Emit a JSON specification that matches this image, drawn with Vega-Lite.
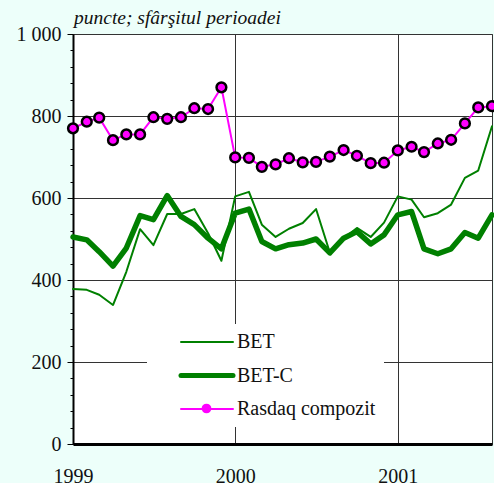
{
  "$schema": "https://vega.github.io/schema/vega-lite/v6.json",
  "width": 419,
  "height": 410,
  "autosize": {"type": "none"},
  "padding": {"left": 73, "top": 34, "right": 2, "bottom": 39},
  "background": "#EDFFFA",
  "config": {
    "view": {"fill": "white", "stroke": "#333", "strokeWidth": 1},
    "font": "Liberation Serif, Times New Roman, serif"
  },
  "title": {
    "text": "puncte; sfârşitul perioadei",
    "anchor": "start",
    "frame": "group",
    "font": "Liberation Serif, Times New Roman, serif",
    "fontSize": 19.5,
    "fontStyle": "italic",
    "fontWeight": "normal",
    "baseline": "alphabetic",
    "offset": 8,
    "dx": 1,
    "dy": 27,
    "color": "#111"
  },
  "data": {
    "values": [
      {"date": "1999-01-01", "series": "BET", "value": 378},
      {"date": "1999-02-01", "series": "BET", "value": 376},
      {"date": "1999-03-01", "series": "BET", "value": 364},
      {"date": "1999-04-01", "series": "BET", "value": 339},
      {"date": "1999-05-01", "series": "BET", "value": 420},
      {"date": "1999-06-01", "series": "BET", "value": 524},
      {"date": "1999-07-01", "series": "BET", "value": 485},
      {"date": "1999-08-01", "series": "BET", "value": 561},
      {"date": "1999-09-01", "series": "BET", "value": 561},
      {"date": "1999-10-01", "series": "BET", "value": 573},
      {"date": "1999-11-01", "series": "BET", "value": 514},
      {"date": "1999-12-01", "series": "BET", "value": 447},
      {"date": "2000-01-01", "series": "BET", "value": 604},
      {"date": "2000-02-01", "series": "BET", "value": 615},
      {"date": "2000-03-01", "series": "BET", "value": 535},
      {"date": "2000-04-01", "series": "BET", "value": 505},
      {"date": "2000-05-01", "series": "BET", "value": 525},
      {"date": "2000-06-01", "series": "BET", "value": 539},
      {"date": "2000-07-01", "series": "BET", "value": 573},
      {"date": "2000-08-01", "series": "BET", "value": 467},
      {"date": "2000-09-01", "series": "BET", "value": 502},
      {"date": "2000-10-01", "series": "BET", "value": 527},
      {"date": "2000-11-01", "series": "BET", "value": 505},
      {"date": "2000-12-01", "series": "BET", "value": 540},
      {"date": "2001-01-01", "series": "BET", "value": 604},
      {"date": "2001-02-01", "series": "BET", "value": 596},
      {"date": "2001-03-01", "series": "BET", "value": 553},
      {"date": "2001-04-01", "series": "BET", "value": 563},
      {"date": "2001-05-01", "series": "BET", "value": 584},
      {"date": "2001-06-01", "series": "BET", "value": 649},
      {"date": "2001-07-01", "series": "BET", "value": 667},
      {"date": "2001-08-01", "series": "BET", "value": 775},
      {"date": "1999-01-01", "series": "BET-C", "value": 505},
      {"date": "1999-02-01", "series": "BET-C", "value": 498},
      {"date": "1999-03-01", "series": "BET-C", "value": 469},
      {"date": "1999-04-01", "series": "BET-C", "value": 434},
      {"date": "1999-05-01", "series": "BET-C", "value": 478},
      {"date": "1999-06-01", "series": "BET-C", "value": 557},
      {"date": "1999-07-01", "series": "BET-C", "value": 547},
      {"date": "1999-08-01", "series": "BET-C", "value": 606},
      {"date": "1999-09-01", "series": "BET-C", "value": 555},
      {"date": "1999-10-01", "series": "BET-C", "value": 535},
      {"date": "1999-11-01", "series": "BET-C", "value": 502},
      {"date": "1999-12-01", "series": "BET-C", "value": 476},
      {"date": "2000-01-01", "series": "BET-C", "value": 563},
      {"date": "2000-02-01", "series": "BET-C", "value": 573},
      {"date": "2000-03-01", "series": "BET-C", "value": 494},
      {"date": "2000-04-01", "series": "BET-C", "value": 476},
      {"date": "2000-05-01", "series": "BET-C", "value": 486},
      {"date": "2000-06-01", "series": "BET-C", "value": 490},
      {"date": "2000-07-01", "series": "BET-C", "value": 500},
      {"date": "2000-08-01", "series": "BET-C", "value": 466},
      {"date": "2000-09-01", "series": "BET-C", "value": 502},
      {"date": "2000-10-01", "series": "BET-C", "value": 518},
      {"date": "2000-11-01", "series": "BET-C", "value": 488},
      {"date": "2000-12-01", "series": "BET-C", "value": 510},
      {"date": "2001-01-01", "series": "BET-C", "value": 559},
      {"date": "2001-02-01", "series": "BET-C", "value": 567},
      {"date": "2001-03-01", "series": "BET-C", "value": 476},
      {"date": "2001-04-01", "series": "BET-C", "value": 464},
      {"date": "2001-05-01", "series": "BET-C", "value": 476},
      {"date": "2001-06-01", "series": "BET-C", "value": 516},
      {"date": "2001-07-01", "series": "BET-C", "value": 502},
      {"date": "2001-08-01", "series": "BET-C", "value": 559},
      {"date": "1999-01-01", "series": "Rasdaq compozit", "value": 770},
      {"date": "1999-02-01", "series": "Rasdaq compozit", "value": 786},
      {"date": "1999-03-01", "series": "Rasdaq compozit", "value": 796},
      {"date": "1999-04-01", "series": "Rasdaq compozit", "value": 741},
      {"date": "1999-05-01", "series": "Rasdaq compozit", "value": 755},
      {"date": "1999-06-01", "series": "Rasdaq compozit", "value": 755},
      {"date": "1999-07-01", "series": "Rasdaq compozit", "value": 797},
      {"date": "1999-08-01", "series": "Rasdaq compozit", "value": 793},
      {"date": "1999-09-01", "series": "Rasdaq compozit", "value": 797},
      {"date": "1999-10-01", "series": "Rasdaq compozit", "value": 819},
      {"date": "1999-11-01", "series": "Rasdaq compozit", "value": 817},
      {"date": "1999-12-01", "series": "Rasdaq compozit", "value": 870},
      {"date": "2000-01-01", "series": "Rasdaq compozit", "value": 699},
      {"date": "2000-02-01", "series": "Rasdaq compozit", "value": 698},
      {"date": "2000-03-01", "series": "Rasdaq compozit", "value": 676},
      {"date": "2000-04-01", "series": "Rasdaq compozit", "value": 682},
      {"date": "2000-05-01", "series": "Rasdaq compozit", "value": 697},
      {"date": "2000-06-01", "series": "Rasdaq compozit", "value": 687},
      {"date": "2000-07-01", "series": "Rasdaq compozit", "value": 688},
      {"date": "2000-08-01", "series": "Rasdaq compozit", "value": 701},
      {"date": "2000-09-01", "series": "Rasdaq compozit", "value": 717},
      {"date": "2000-10-01", "series": "Rasdaq compozit", "value": 703},
      {"date": "2000-11-01", "series": "Rasdaq compozit", "value": 685},
      {"date": "2000-12-01", "series": "Rasdaq compozit", "value": 686},
      {"date": "2001-01-01", "series": "Rasdaq compozit", "value": 716},
      {"date": "2001-02-01", "series": "Rasdaq compozit", "value": 725},
      {"date": "2001-03-01", "series": "Rasdaq compozit", "value": 712},
      {"date": "2001-04-01", "series": "Rasdaq compozit", "value": 733},
      {"date": "2001-05-01", "series": "Rasdaq compozit", "value": 742},
      {"date": "2001-06-01", "series": "Rasdaq compozit", "value": 782},
      {"date": "2001-07-01", "series": "Rasdaq compozit", "value": 821},
      {"date": "2001-08-01", "series": "Rasdaq compozit", "value": 824}
    ]
  },
  "layer": [
    {
      "mark": {"type": "line", "strokeJoin": "round", "strokeCap": "round"},
      "encoding": {
        "x": {
          "field": "date",
          "type": "temporal",
          "scale": {
            "type": "utc",
            "domain": [
              {"year": 1999, "month": 1, "date": 1, "utc": true},
              {"year": 2001, "month": 8, "date": 1, "utc": true}
            ]
          },
          "axis": {
            "values": [
              {"year": 1999, "month": 1, "date": 1, "utc": true},
              {"year": 2000, "month": 1, "date": 1, "utc": true},
              {"year": 2001, "month": 1, "date": 1, "utc": true}
            ],
            "format": "%Y",
            "grid": true,
            "gridColor": "#333",
            "gridWidth": 1,
            "gridOpacity": 1,
            "ticks": false,
            "tickSize": 0,
            "domainColor": "#000",
            "domainWidth": 3,
            "labelFont": "Liberation Serif, Times New Roman, serif",
            "labelFontSize": 20,
            "labelColor": "#111",
            "labelPadding": 22,
            "labelFlush": false,
            "labelAngle": 0,
            "title": null
          }
        },
        "y": {
          "field": "value",
          "type": "quantitative",
          "scale": {"domain": [0, 1000], "nice": false},
          "axis": {
            "orient": "left",
            "values": [0, 200, 400, 600, 800, 1000],
            "labelExpr": "replace(format(datum.value, ','), ',', ' ')",
            "grid": true,
            "gridColor": "#333",
            "gridWidth": 1,
            "gridOpacity": 1,
            "tickSize": 6,
            "tickColor": "#000",
            "domainColor": "#000",
            "domainWidth": 2,
            "labelFont": "Liberation Serif, Times New Roman, serif",
            "labelFontSize": 20,
            "labelColor": "#111",
            "labelPadding": 6,
            "title": null
          }
        },
        "color": {
          "field": "series",
          "type": "nominal",
          "scale": {
            "domain": ["BET", "BET-C", "Rasdaq compozit"],
            "range": ["#008000", "#008000", "#ff00ff"]
          },
          "legend": {
            "title": null,
            "orient": "none",
            "legendX": 74,
            "legendY": 290,
            "fillColor": "white",
            "padding": 8,
            "symbolType": "stroke",
            "symbolSize": 2704,
            "symbolStrokeWidth": 2,
            "symbolOffset": 25,
            "labelOffset": 3,
            "labelFont": "Liberation Serif, Times New Roman, serif",
            "labelFontSize": 20,
            "labelColor": "#111",
            "labelLimit": 300,
            "clipHeight": 20,
            "rowPadding": 13.5,
            "labelExpr": "datum.label + '\u00a0\u00a0\u00a0\u00a0\u00a0\u00a0\u00a0\u00a0\u00a0\u00a0'",
            "zindex": 1,
            "encode": {
              "symbols": {
                "update": {
                  "strokeWidth": {"signal": "(datum.value === 'BET-C' ? 5 : 2)"},
                  "strokeCap": {"value": "round"}
                }
              }
            }
          }
        },
        "strokeWidth": {
          "condition": {"test": "datum.series === 'BET-C'", "value": 5.5},
          "value": 2
        }
      }
    },
    {
      "transform": [{"filter": "datum.series === 'Rasdaq compozit'"}],
      "mark": {
        "type": "point",
        "filled": true,
        "fill": "#ff00ff",
        "stroke": "#000",
        "strokeWidth": 2.5,
        "size": 95,
        "opacity": 1
      },
      "encoding": {
        "x": {"field": "date", "type": "temporal"},
        "y": {
          "field": "value",
          "type": "quantitative",
          "axis": {
            "orient": "left",
            "values": [40, 80, 120, 160, 240, 280, 320, 360, 440, 480, 520, 560, 640, 680, 720, 760, 840, 880, 920, 960],
            "labels": false,
            "grid": false,
            "domain": false,
            "tickSize": 3,
            "tickColor": "#000",
            "title": null
          }
        },
        "shape": {
          "field": "series",
          "type": "nominal",
          "scale": {"domain": ["Rasdaq compozit"], "range": ["circle"]},
          "legend": {
            "title": null,
            "orient": "none",
            "legendX": 127,
            "legendY": 368,
            "padding": 0,
            "symbolSize": 95,
            "symbolStrokeWidth": 2.5,
            "symbolFillColor": "#ff00ff",
            "symbolStrokeColor": "#000",
            "symbolOffset": 0,
            "labelOffset": 0,
            "labelFontSize": 1,
            "labelExpr": "''",
            "zindex": 2,
            "encode": {
              "symbols": {
                "update": {
                  "fill": {"value": "#ff00ff"},
                  "stroke": {"value": "#000"},
                  "strokeWidth": {"value": 2.5},
                  "opacity": {"value": 1}
                }
              }
            }
          }
        }
      }
    }
  ],
  "resolve": {"axis": {"y": "independent"}}
}
